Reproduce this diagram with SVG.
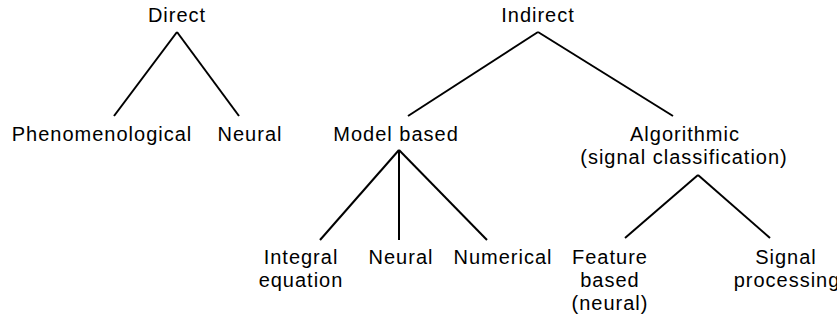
<svg xmlns="http://www.w3.org/2000/svg" width="837" height="320" viewBox="0 0 837 320">
<style>
text{font-family:"Liberation Sans",Arial,sans-serif;font-size:20px;letter-spacing:1px;fill:#000;text-anchor:middle}
.c line{stroke:#000;stroke-width:2;stroke-linecap:butt}
</style>
<rect width="837" height="320" fill="#fff"/>
<g id="direct"><text x="177" y="22">Direct</text></g>
<g id="phenomenological"><text x="102" y="141">Phenomenological</text></g>
<g id="neural1"><text x="250" y="141">Neural</text></g>
<g id="indirect"><text x="538" y="22">Indirect</text></g>
<g id="modelbased"><text x="396" y="141">Model based</text></g>
<g id="algorithmic"><text x="685" y="141">Algorithmic</text><text x="684" y="164">(signal classification)</text></g>
<g id="integral"><text x="301" y="264">Integral</text><text x="301" y="287">equation</text></g>
<g id="neural2"><text x="401" y="264">Neural</text></g>
<g id="numerical"><text x="503" y="264">Numerical</text></g>
<g id="feature"><text x="610" y="264">Feature</text><text x="610" y="287">based</text><text x="610" y="310">(neural)</text></g>
<g id="signal"><text x="786" y="264">Signal</text><text x="787" y="287">processing</text></g>
<g class="c" id="connectors">
<line x1="177" y1="32" x2="114" y2="116"/>
<line x1="177" y1="32" x2="239" y2="116"/>
<line x1="538" y1="32" x2="408" y2="116"/>
<line x1="538" y1="32" x2="673" y2="116"/>
<line x1="399" y1="150" x2="320" y2="240"/>
<line x1="399" y1="150" x2="399" y2="240"/>
<line x1="399" y1="150" x2="487" y2="240"/>
<line x1="698" y1="175" x2="625" y2="238"/>
<line x1="698" y1="175" x2="770" y2="238"/>
</g>
</svg>
